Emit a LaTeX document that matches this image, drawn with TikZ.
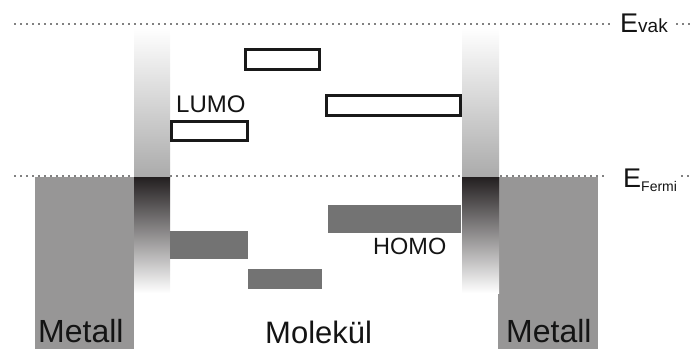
\documentclass[tikz,border=0pt]{standalone}
\usepackage{fontspec}
\setmainfont{Liberation Sans}
\begin{document}
\begin{tikzpicture}[x=1pt,y=-1pt,
  dotline/.style={line width=1.9pt, dash pattern=on 0pt off 6pt, line cap=round, black},
  metal/.style={fill=metalgray, draw=none},
  homo/.style={fill=homogray, draw=none},
  lumo/.style={draw=black!90, line width=2.6pt, fill=white},
  lbl/.style={inner sep=0pt, anchor=base west, text=black!92},
]
\definecolor{metalgray}{RGB}{151,150,150}
\definecolor{homogray}{RGB}{115,115,115}
\definecolor{coldark}{RGB}{35,31,32}
\useasboundingbox (0,0) rectangle (696,349);

% energy reference levels
\draw[dotline] (15,24) -- (613,24);
\draw[dotline] (677,24) -- (692,24);
\draw[dotline] (15,176) -- (607,176);
\draw[dotline] (682,176) -- (692,176);

\node[lbl] (evak) at (620,32) {\fontsize{27}{30}\selectfont E\fontsize{19}{22}\selectfont vak};
\node[lbl] (efermi) at (623,187) {\fontsize{27}{30}\selectfont E};
\node[lbl] (fermisub) at (641,191.5) {\fontsize{14}{16}\selectfont Fermi};

% metal electrodes
\fill[metal] (35,177) rectangle (134,349);
\fill[metal] (498,177) rectangle (598,349);

% interface columns: empty states above, filled states below the Fermi level
\shade[top color=white, bottom color=black!33] (134,28) rectangle (170,177);
\shade[top color=coldark, bottom color=white] (134,177) rectangle (170,293);
\shade[top color=white, bottom color=black!33] (462,28) rectangle (499,177);
\shade[top color=coldark, bottom color=white] (462,177) rectangle (499,293);

% unoccupied molecular levels
\draw[lumo] (171.3,121.3) rectangle (247.7,140.7);
\draw[lumo] (245.3,49.3) rectangle (319.7,69.7);
\draw[lumo] (326.3,95.3) rectangle (460.7,115.7);

% occupied molecular levels
\fill[homo] (170,231) rectangle (248,259);
\fill[homo] (248,269) rectangle (322,289);
\fill[homo] (328,205) rectangle (461,233);

% labels
\node[lbl] (lumo) at (176,112) {\fontsize{24}{28}\selectfont LUMO};
\node[lbl] (homo) at (373,254) {\fontsize{23.5}{28}\selectfont HOMO};
\node[lbl] (metl) at (38,342) {\fontsize{32}{36}\selectfont Metall};
\node[lbl] (metr) at (506,342) {\fontsize{32}{36}\selectfont Metall};
\node[lbl] (mol) at (265,343) {\fontsize{31}{36}\selectfont Molekül};
\end{tikzpicture}
\end{document}
